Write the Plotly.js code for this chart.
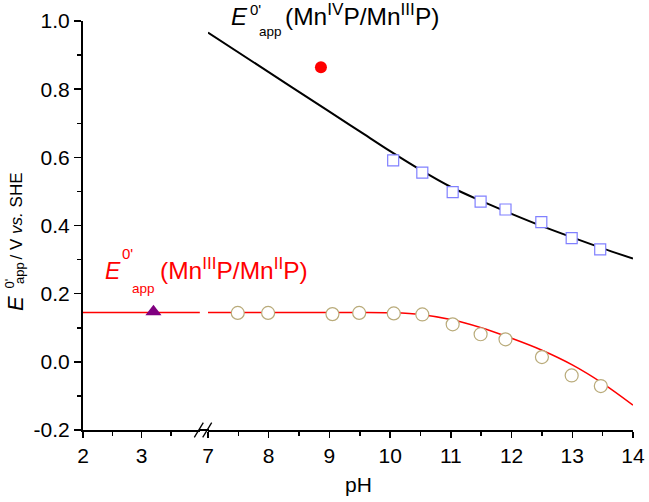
<!DOCTYPE html>
<html>
<head>
<meta charset="utf-8">
<script src="https://cdn.plot.ly/plotly-3.0.1.min.js"></script>
<style>html,body{margin:0;padding:0;background:#fff;}#chart{width:649px;height:502px;}</style>
</head>
<body>
<div id="chart"></div>
<script>
// ---- data ----
// Fit curve, E0'app (MnIV P / MnIII P)
var fitIV_pH = [7.0, 8.0, 9.0, 9.5, 10.0, 10.5, 11.0, 11.5, 12.0, 12.5, 13.0, 13.5, 14.0];
var fitIV_E  = [0.966, 0.850, 0.734, 0.676, 0.618, 0.563, 0.513, 0.472, 0.434, 0.398, 0.365, 0.333, 0.303];
// Squares (MnIV/MnIII data)
var sqIV_pH = [10.05, 10.53, 11.03, 11.49, 11.90, 12.49, 12.99, 13.46];
var sqIV_E  = [0.591, 0.555, 0.498, 0.470, 0.447, 0.410, 0.363, 0.330];
// Red dot
var dot_pH = [8.86];
var dot_E  = [0.864];
// Fit curve, E0'app (MnIII P / MnII P), low-pH segment and high-pH segment
var fitIII_lo_pH = [2.0, 3.99];
var fitIII_lo_E  = [0.145, 0.145];
var fitIII_hi_pH = [7.0, 8.0, 9.0, 9.5, 10.0, 10.5, 11.0, 11.5, 12.0, 12.5, 13.0, 13.5, 14.0];
var fitIII_hi_E  = [0.145, 0.145, 0.145, 0.145, 0.144, 0.139, 0.124, 0.100, 0.069, 0.034, -0.009, -0.063, -0.127];
// Circles (MnIII/MnII data)
var circ_pH = [7.49, 7.99, 9.05, 9.49, 10.06, 10.53, 11.03, 11.49, 11.90, 12.50, 12.99, 13.47];
var circ_E  = [0.1435, 0.1435, 0.140, 0.1435, 0.142, 0.139, 0.110, 0.081, 0.066, 0.014, -0.040, -0.071];
// Triangle
var tri_pH = [3.20];
var tri_E  = [0.147];
// Tick labels
var yTickVals = [-0.2, 0.0, 0.2, 0.4, 0.6, 0.8, 1.0];
var yTickText = ["-0.2", "0.0", "0.2", "0.4", "0.6", "0.8", "1.0"];
var xLoTickVals = [2, 3];
var xLoTickText = ["2", "3"];
var xHiTickVals = [7, 8, 9, 10, 11, 12, 13, 14];
var xHiTickText = ["7", "8", "9", "10", "11", "12", "13", "14"];

var FONT = "Arial, 'Liberation Sans', sans-serif";

var traces = [
  {x: fitIII_lo_pH, y: fitIII_lo_E, xaxis: 'x', yaxis: 'y', mode: 'lines',
   line: {color: '#ff0000', width: 1.5}},
  {x: fitIII_hi_pH, y: fitIII_hi_E, xaxis: 'x2', yaxis: 'y', mode: 'lines',
   line: {color: '#ff0000', width: 1.5, shape: 'spline', smoothing: 1}},
  {x: fitIV_pH, y: fitIV_E, xaxis: 'x2', yaxis: 'y', mode: 'lines',
   line: {color: '#000000', width: 2, shape: 'spline', smoothing: 1}},
  {x: circ_pH, y: circ_E, xaxis: 'x2', yaxis: 'y', mode: 'markers',
   marker: {symbol: 'circle', size: 13, color: '#ffffff', line: {color: '#b9ab7a', width: 1.2}}},
  {x: sqIV_pH, y: sqIV_E, xaxis: 'x2', yaxis: 'y', mode: 'markers',
   marker: {symbol: 'square', size: 11, color: '#ffffff', line: {color: '#8080ff', width: 1.2}}},
  {x: dot_pH, y: dot_E, xaxis: 'x2', yaxis: 'y', mode: 'markers',
   marker: {symbol: 'circle', size: 12, color: '#ff0000'}},
  {x: tri_pH, y: tri_E, xaxis: 'x', yaxis: 'y', mode: 'markers',
   marker: {symbol: 'triangle-up', size: 14, color: '#800080'}}
];

var W = 550, H = 409, L = 83, T = 21;
function px(v) { return (v - L) / W; }
function py(v) { return (T + H - v) / H; }

function ann(text, x, y, size, color, yanchor) {
  return {text: text, xref: 'paper', yref: 'paper', x: px(x), y: py(y),
    xanchor: 'left', yanchor: yanchor || 'bottom', showarrow: false, borderpad: 0,
    font: {family: FONT, size: size, color: color}};
}
function rot(text, x, y, size) {
  return {text: text, xref: 'paper', yref: 'paper', x: px(x), y: py(y),
    xanchor: 'center', yanchor: 'middle', showarrow: false, borderpad: 0, textangle: -90,
    font: {family: FONT, size: size, color: '#000'}};
}

var annotations = [
  // top label
  ann('<i>E</i>', 230, 30.8, 24, '#000'),
  ann("0'", 248.5, 0, 15, '#000', 'top'),
  ann('app', 257.5, 40, 13.5, '#000'),
  ann('(Mn<sup>IV</sup>P/Mn<sup>III</sup>P)', 284, 31.2, 24.5, '#000'),
  // red label
  ann('<i>E</i>', 104, 284.7, 23, '#ff0000'),
  ann("0'", 121, 262.6, 15, '#ff0000'),
  ann('app', 131, 297, 13.5, '#ff0000'),
  ann('(Mn<sup>III</sup>P/Mn<sup>II</sup>P)', 159, 285, 24.5, '#ff0000'),
  // y axis title pieces
  rot('<i>E</i>', 15, 304, 22),
  rot("0'", 8.5, 284, 13),
  rot('app', 19, 273, 13),
  rot('/ V <i>vs.</i> SHE', 16.4, 216, 17),
  // x axis title
  {text: 'pH', xref: 'paper', yref: 'paper', x: px(358), y: py(485), xanchor: 'center', yanchor: 'middle',
   showarrow: false, font: {family: FONT, size: 21, color: '#000'}}
];

var shapes = [
  {type: 'line', xref: 'paper', yref: 'paper', x0: px(199), y0: py(430), x1: px(209), y1: py(430),
   line: {color: '#000', width: 2}},
  {type: 'line', xref: 'paper', yref: 'paper', x0: px(194.3), y0: py(437.3), x1: px(203.3), y1: py(422.7),
   line: {color: '#000', width: 1.3}},
  {type: 'line', xref: 'paper', yref: 'paper', x0: px(202.7), y0: py(437.3), x1: px(211.7), y1: py(422.7),
   line: {color: '#000', width: 1.3}}
];

var axBase = {showgrid: false, zeroline: false, showline: true, linecolor: '#000', linewidth: 2,
  ticks: 'outside', ticklen: 6, tickwidth: 1.5, tickcolor: '#000', mirror: false,
  tickfont: {family: FONT, size: 21, color: '#000'}, fixedrange: true};

function merge(a, b) { var o = {}; for (var k in a) o[k] = a[k]; for (var k2 in b) o[k2] = b[k2]; return o; }

var layout = {
  width: 649, height: 502,
  margin: {l: L, r: 649 - L - W, t: T, b: 502 - T - H, pad: 0},
  paper_bgcolor: '#fff', plot_bgcolor: '#fff',
  showlegend: false,
  font: {family: FONT, color: '#000'},
  xaxis: merge(axBase, {domain: [0, px(200)], range: [2, 3.993], anchor: 'y',
    tickmode: 'array', tickvals: xLoTickVals, ticktext: xLoTickText,
    minor: {tickmode: 'linear', tick0: 2, dtick: 0.5, ticks: 'outside', ticklen: 3.5, tickwidth: 1.5, tickcolor: '#000'}}),
  xaxis2: merge(axBase, {domain: [px(208), 1], range: [7, 14], anchor: 'y',
    tickmode: 'array', tickvals: xHiTickVals, ticktext: xHiTickText,
    minor: {tickmode: 'linear', tick0: 7, dtick: 0.5, ticks: 'outside', ticklen: 3.5, tickwidth: 1.5, tickcolor: '#000'}}),
  yaxis: merge(axBase, {domain: [0, 1], range: [-0.2, 1.0], anchor: 'x', ticklen: 7,
    tickmode: 'array', tickvals: yTickVals, ticktext: yTickText,
    minor: {tickmode: 'linear', tick0: 0, dtick: 0.1, ticks: 'outside', ticklen: 4, tickwidth: 1.5, tickcolor: '#000'}}),
  annotations: annotations,
  shapes: shapes
};

Plotly.newPlot('chart', traces, layout, {displayModeBar: false, staticPlot: true});
</script>
</body>
</html>
